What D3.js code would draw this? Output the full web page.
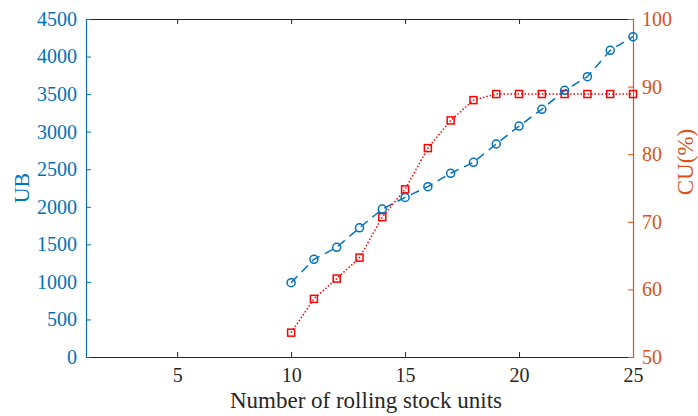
<!DOCTYPE html>
<html>
<head>
<meta charset="utf-8">
<title>UB and CU</title>
<script src="https://d3js.org/d3.v7.min.js"></script>
<style>
  body { margin: 0; background: #fff; }
  text { font-family: "Liberation Serif", "Times New Roman", serif; }
</style>
</head>
<body>
<svg id="mainsvg" width="698" height="416"></svg>
<script>
// ---------- data ----------
const units = [10, 11, 12, 13, 14, 15, 16, 17, 18, 19, 20, 21, 22, 23, 24, 25];
const ubValues = [990, 1300, 1460, 1720, 1970, 2125, 2268, 2446, 2592, 2836, 3075, 3298, 3550, 3732, 4083, 4265];
const cuValues = [53.6, 58.6, 61.6, 64.7, 70.7, 74.8, 80.9, 85.0, 88.0, 88.9, 88.9, 88.9, 88.9, 88.9, 88.9, 88.9];
const xTicks = [5, 10, 15, 20, 25];
const ubTicks = [0, 500, 1000, 1500, 2000, 2500, 3000, 3500, 4000, 4500];
const cuTicks = [50, 60, 70, 80, 90, 100];

// ---------- layout ----------
const svg = d3.select("#mainsvg");
const margin = {top: 19, bottom: 59, left: 86, right: 65};
const width = +svg.attr("width");
const height = +svg.attr("height");
const innerWidth = width - margin.left - margin.right;
const innerHeight = height - margin.top - margin.bottom;

const blue = "#0072BD";
const orange = "#D95319";
const red = "#FF0000";
const dark = "#262626";

const g = svg.append("g").attr("transform", `translate(${margin.left}, ${margin.top})`);

const xScale = d3.scaleLinear().domain([1, 25]).range([0, innerWidth]);
const yLeft = d3.scaleLinear().domain([0, 4500]).range([innerHeight, 0]);
const yRight = d3.scaleLinear().domain([50, 100]).range([innerHeight, 0]);

// ---------- axes ----------
function styleAxis(sel, color, fontSize) {
  sel.select(".domain").attr("stroke", color).attr("stroke-width", 1.2);
  sel.selectAll(".tick line").attr("stroke", color).attr("stroke-width", 1);
  sel.selectAll(".tick text").attr("fill", color)
     .style("font-family", '"Liberation Serif", "Times New Roman", serif')
     .style("font-size", fontSize + "px");
}

const fmt = d3.format("d");

// top axis (ticks only)
const topAxis = g.append("g")
  .call(d3.axisTop(xScale).tickValues(xTicks).tickSizeInner(-5).tickSizeOuter(0).tickFormat(""));
styleAxis(topAxis, dark, 20);

// bottom axis
const bottomAxis = g.append("g")
  .attr("transform", `translate(0, ${innerHeight})`)
  .call(d3.axisBottom(xScale).tickValues(xTicks).tickFormat(fmt).tickSizeInner(-5).tickSizeOuter(0).tickPadding(11));
styleAxis(bottomAxis, dark, 20);

// left axis
const leftAxis = g.append("g")
  .call(d3.axisLeft(yLeft).tickValues(ubTicks).tickFormat(fmt).tickSizeInner(-5).tickSizeOuter(0).tickPadding(9));
styleAxis(leftAxis, blue, 20);

// right axis
const rightAxis = g.append("g")
  .attr("transform", `translate(${innerWidth}, 0)`)
  .call(d3.axisRight(yRight).tickValues(cuTicks).tickFormat(fmt).tickSizeInner(-5).tickSizeOuter(0).tickPadding(9));
styleAxis(rightAxis, orange, 20);

// axis labels
svg.append("text")
  .attr("x", 366)
  .attr("y", 408)
  .attr("text-anchor", "middle")
  .attr("fill", dark)
  .style("font-size", "23px")
  .text("Number of rolling stock units");

svg.append("text")
  .attr("transform", `translate(29, ${margin.top + innerHeight / 2}) rotate(-90)`)
  .attr("text-anchor", "middle")
  .attr("fill", blue)
  .style("font-size", "22px")
  .text("UB");

svg.append("text")
  .attr("transform", `translate(693, 162) rotate(-90)`)
  .attr("text-anchor", "middle")
  .attr("fill", orange)
  .style("font-size", "23px")
  .text("CU(%)");

// ---------- series ----------
const ubData = units.map((u, i) => ({x: u, y: ubValues[i]}));
const cuData = units.map((u, i) => ({x: u, y: cuValues[i]}));

const ubLine = d3.line().x(d => xScale(d.x)).y(d => yLeft(d.y));
const cuLine = d3.line().x(d => xScale(d.x)).y(d => yRight(d.y));

g.append("path").datum(cuData)
  .attr("d", cuLine)
  .attr("fill", "none")
  .attr("stroke", red)
  .attr("stroke-width", 1.5)
  .attr("stroke-dasharray", "1.5,2");

g.selectAll(".cu-mark").data(cuData).join("rect")
  .attr("class", "cu-mark")
  .attr("x", d => xScale(d.x) - 3.5)
  .attr("y", d => yRight(d.y) - 3.5)
  .attr("width", 7)
  .attr("height", 7)
  .attr("fill", "none")
  .attr("stroke", red)
  .attr("stroke-width", 1.5);

g.append("path").datum(ubData)
  .attr("d", ubLine)
  .attr("fill", "none")
  .attr("stroke", blue)
  .attr("stroke-width", 1.5)
  .attr("stroke-dasharray", "9,6");

g.selectAll(".ub-mark").data(ubData).join("circle")
  .attr("class", "ub-mark")
  .attr("cx", d => xScale(d.x))
  .attr("cy", d => yLeft(d.y))
  .attr("r", 4)
  .attr("fill", "none")
  .attr("stroke", blue)
  .attr("stroke-width", 1.5);
</script>
</body>
</html>
